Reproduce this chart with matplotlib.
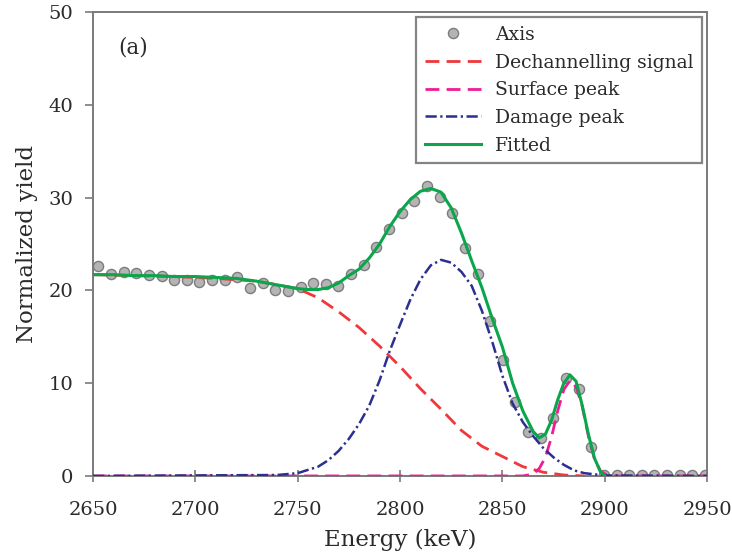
import matplotlib
matplotlib.use("Agg")
import matplotlib.pyplot as plt

# ---- data ----
energy_pts = [2652.6, 2658.8, 2665.0, 2671.1, 2677.3, 2683.5, 2689.7, 2695.8, 2702.0, 2708.2,
              2714.4, 2720.5, 2726.7, 2732.9, 2739.1, 2745.2, 2751.4, 2757.6, 2763.8, 2769.9,
              2776.1, 2782.3, 2788.5, 2794.6, 2800.8, 2807.0, 2813.2, 2819.3, 2825.5, 2831.7,
              2837.9, 2844.0, 2850.2, 2856.4, 2862.6, 2868.7, 2874.9, 2881.1, 2887.3, 2893.4,
              2899.6, 2905.8, 2912.0, 2918.1, 2924.3, 2930.5, 2936.7, 2942.8, 2949.0]
axis_yield = [22.6, 21.8, 22.0, 21.9, 21.7, 21.6, 21.1, 21.1, 20.9, 21.1,
              21.1, 21.4, 20.3, 20.8, 20.1, 19.9, 20.4, 20.8, 20.7, 20.5,
              21.8, 22.7, 24.7, 26.6, 28.4, 29.6, 31.3, 30.1, 28.4, 24.6,
              21.8, 16.7, 12.5, 8.0, 4.7, 4.1, 6.3, 10.6, 9.4, 3.1,
              0.1, 0.15, 0.15, 0.15, 0.15, 0.15, 0.15, 0.15, 0.15]

dech_e = [2650, 2670, 2690, 2710, 2730, 2740, 2750, 2760, 2770, 2780, 2790, 2800, 2810,
          2820, 2830, 2840, 2850, 2860, 2870, 2880, 2890]
dech_y = [21.7, 21.6, 21.5, 21.3, 21.0, 20.6, 20.2, 19.2, 17.7, 16.0, 14.0, 11.8, 9.4,
          7.2, 4.9, 3.2, 2.1, 1.0, 0.4, 0.1, 0.0]

surf_e = [2650, 2860, 2865, 2868, 2871, 2874, 2877, 2880, 2883, 2886, 2889, 2892, 2895,
          2898, 2901, 2905, 2950]
surf_y = [0.0, 0.0, 0.2, 0.8, 2.0, 4.2, 7.0, 9.3, 10.3, 9.6, 7.5, 4.3, 1.8,
          0.5, 0.1, 0.0, 0.0]

dam_e = [2650, 2740, 2750, 2760, 2765, 2770, 2775, 2780, 2785, 2790, 2795, 2800, 2805,
         2810, 2815, 2820, 2825, 2830, 2835, 2840, 2845, 2850, 2855, 2860, 2865, 2870,
         2875, 2880, 2885, 2890, 2900, 2950]
dam_y = [0.0, 0.1, 0.3, 1.0, 1.7, 2.7, 4.0, 5.6, 7.6, 10.3, 13.5, 16.3, 19.0,
         21.2, 22.7, 23.3, 23.0, 22.0, 20.5, 17.8, 14.5, 10.8, 7.8, 5.8, 4.3, 3.0,
         2.0, 1.2, 0.6, 0.3, 0.05, 0.0]

fit_e = [2650, 2660, 2670, 2680, 2690, 2700, 2710, 2720, 2730, 2740, 2750, 2755, 2760,
         2765, 2770, 2775, 2780, 2785, 2790, 2795, 2800, 2805, 2810, 2815, 2820, 2825,
         2830, 2835, 2840, 2845, 2850, 2855, 2860, 2865, 2868, 2871, 2874, 2877, 2880,
         2883, 2886, 2889, 2892, 2895, 2898, 2900]
fit_y = [21.7, 21.7, 21.6, 21.6, 21.5, 21.5, 21.4, 21.3, 21.0, 20.6, 20.2, 20.1, 20.1,
         20.3, 20.8, 21.6, 22.3, 23.5, 25.0, 26.9, 28.5, 29.8, 30.7, 31.0, 30.6, 28.9,
         26.2, 23.2, 20.3, 17.0, 13.9, 10.0, 7.0, 4.8, 4.1, 4.5, 6.0, 8.2, 10.0,
         10.9, 10.2, 7.6, 4.5, 1.9, 0.4, 0.0]

x_ticks = [2650, 2700, 2750, 2800, 2850, 2900, 2950]
y_ticks = [0, 10, 20, 30, 40, 50]

plt.rcParams['font.family'] = ['DejaVu Serif']
text_col = '#2a2a2a'
spine_col = '#7a7a7a'

fig = plt.figure(figsize=(7.32, 5.56), dpi=100)
ax = fig.add_axes([0.127, 0.144, 0.839, 0.834])

ax.plot(energy_pts, axis_yield, linestyle='none', marker='o', markersize=7.3,
        markerfacecolor='#b4b4b4', markeredgecolor='#7c7c7c', markeredgewidth=1.0,
        label='Axis', zorder=2)
l1, = ax.plot(dech_e, dech_y, color='#f0383c', lw=2.0, label='Dechannelling signal', zorder=3)
l1.set_dashes((5, 2.6))
l2, = ax.plot(surf_e, surf_y, color='#ee1c97', lw=2.0, label='Surface peak', zorder=3)
l2.set_dashes((5, 2.6))
l3, = ax.plot(dam_e, dam_y, color='#2b2f8f', lw=1.8, label='Damage peak', zorder=4)
l3.set_dashes((4.5, 1.4, 0.9, 1.4))
ax.plot(fit_e, fit_y, color='#0aa64c', lw=2.2, label='Fitted', zorder=5)

ax.set_xlim(2650, 2950)
ax.set_ylim(0, 50)
ax.set_xticks(x_ticks)
ax.set_yticks(y_ticks)
for s in ax.spines.values():
    s.set_color(spine_col)
    s.set_linewidth(1.4)
ax.tick_params(axis='x', direction='inout', length=8, width=1.2, color=spine_col,
               labelsize=14, labelcolor=text_col, pad=14)
ax.tick_params(axis='y', direction='out', length=6, width=1.2, color=spine_col,
               labelsize=14, labelcolor=text_col, pad=8)

ax.set_xlabel('Energy (keV)', fontsize=16.5, color=text_col, labelpad=7)
ax.set_ylabel('Normalized yield', fontsize=16.5, color=text_col, labelpad=8)

ax.text(0.065, 0.925, '(a)', transform=ax.transAxes, fontsize=15.5, color=text_col,
        ha='center', va='center')

leg = ax.legend(loc='upper right', bbox_to_anchor=(0.998, 0.997), fontsize=13.5,
                frameon=True, fancybox=False, edgecolor='#666666', handlelength=3.0,
                handletextpad=0.75, labelspacing=0.52, borderpad=0.45, borderaxespad=0.2)
leg.get_frame().set_linewidth(1.6)
for t in leg.get_texts():
    t.set_color(text_col)

fig.savefig('out.png', dpi=100)
